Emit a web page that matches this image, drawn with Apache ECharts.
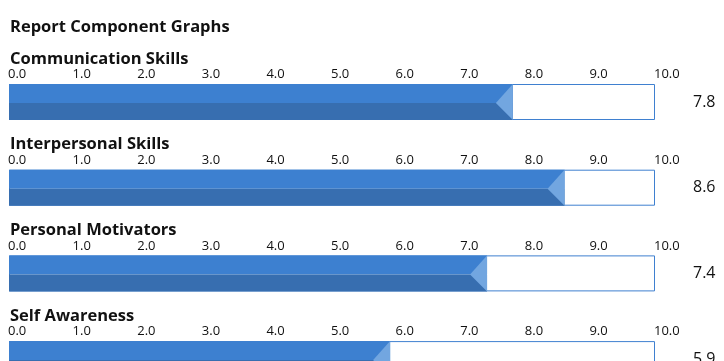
<!DOCTYPE html>
<html>
<head>
<meta charset="utf-8">
<script src="https://cdn.jsdelivr.net/npm/echarts@6/dist/echarts.min.js"></script>
<style>
html,body{margin:0;padding:0;background:#fff;}
#chart{width:724px;height:361px;}
</style>
</head>
<body>
<div id="chart"></div>
<script>
const chartTitle = 'Report Component Graphs';
const categories = ['Communication Skills', 'Interpersonal Skills', 'Personal Motivators', 'Self Awareness'];
const scores = [7.8, 8.6, 7.4, 5.9];
const axisMin = 0;
const axisMax = 10;
const axisStep = 1;

const FONT = '"Open Sans", "Noto Sans", sans-serif';
const TOP_COLOR = '#3d80d0';
const BOTTOM_COLOR = '#376eb0';
const TIP_COLOR = '#72a6e0';
const BORDER_COLOR = '#3f80d0';

const chart = echarts.init(document.getElementById('chart'), null, {renderer: 'canvas'});

const H = 361;
const BAR_H = 36;
const pitch = 85.7;
const titles = [{
  text: chartTitle, left: 10, top: 17, padding: 0,
  textStyle: {fontFamily: FONT, fontSize: 16.5, fontWeight: 'bold', color: '#111', lineHeight: 20}
}];
const grids = [], xAxes = [], yAxes = [], series = [];

categories.forEach((name, i) => {
  const barTop = 84 + pitch * i;
  const visH = Math.min(BAR_H, H - barTop);
  titles.push({
    text: name, left: 10, top: barTop - 35, padding: 0,
    textStyle: {fontFamily: FONT, fontSize: 16.5, fontWeight: 'bold', color: '#111', lineHeight: 20}
  });
  grids.push({left: 9, right: 69, top: barTop, height: visH, show: false});
  xAxes.push({
    gridIndex: i, type: 'value', position: 'top', min: axisMin, max: axisMax, interval: axisStep,
    axisLine: {show: false}, axisTick: {show: false}, splitLine: {show: false},
    axisLabel: {
      show: true, align: 'left', margin: 3, color: '#111', fontFamily: FONT, fontSize: 13,
      padding: [0, 0, 0, -1],
      formatter: v => v.toFixed(1)
    }
  });
  // y range 0..1 always spans BAR_H pixels, even when the panel runs off the canvas
  yAxes.push({gridIndex: i, type: 'value', min: 1 - visH / BAR_H, max: 1, show: false});
  series.push({
    type: 'custom', xAxisIndex: i, yAxisIndex: i, clip: false,
    data: [[scores[i], 1]],
    renderItem: (params, api) => {
      const v = api.value(0);
      const p0 = api.coord([axisMin, 0]);
      const p1 = api.coord([v, 1]);
      const pEnd = api.coord([axisMax, 0]);
      const x0 = p0[0], x1 = p1[0], xE = pEnd[0];
      const yT = p1[1], yB = p0[1];
      const yM = (yT + yB) / 2 + 1;
      const tip = 17;
      return {
        type: 'group',
        children: [
          {type: 'rect', shape: {x: x0 + 0.5, y: yT + 0.5, width: xE - x0 - 1, height: yB - yT - 1},
            style: {fill: '#fff', stroke: BORDER_COLOR, lineWidth: 1}},
          {type: 'rect', shape: {x: x0, y: yT, width: x1 - x0, height: yM - yT}, style: {fill: TOP_COLOR}},
          {type: 'rect', shape: {x: x0, y: yM, width: x1 - x0, height: yB - yM}, style: {fill: BOTTOM_COLOR}},
          {type: 'polygon', shape: {points: [[x1, yT], [x1 - tip, yM], [x1, yB]]}, style: {fill: TIP_COLOR}},
          {type: 'text', x: xE + 38, y: yM - 1,
            style: {text: v.toFixed(1), fill: '#111', font: '16px ' + FONT, align: 'left', verticalAlign: 'middle'}}
        ]
      };
    }
  });
});

chart.setOption({
  animation: false,
  backgroundColor: '#fff',
  title: titles,
  grid: grids,
  xAxis: xAxes,
  yAxis: yAxes,
  series: series
});
</script>
</body>
</html>
